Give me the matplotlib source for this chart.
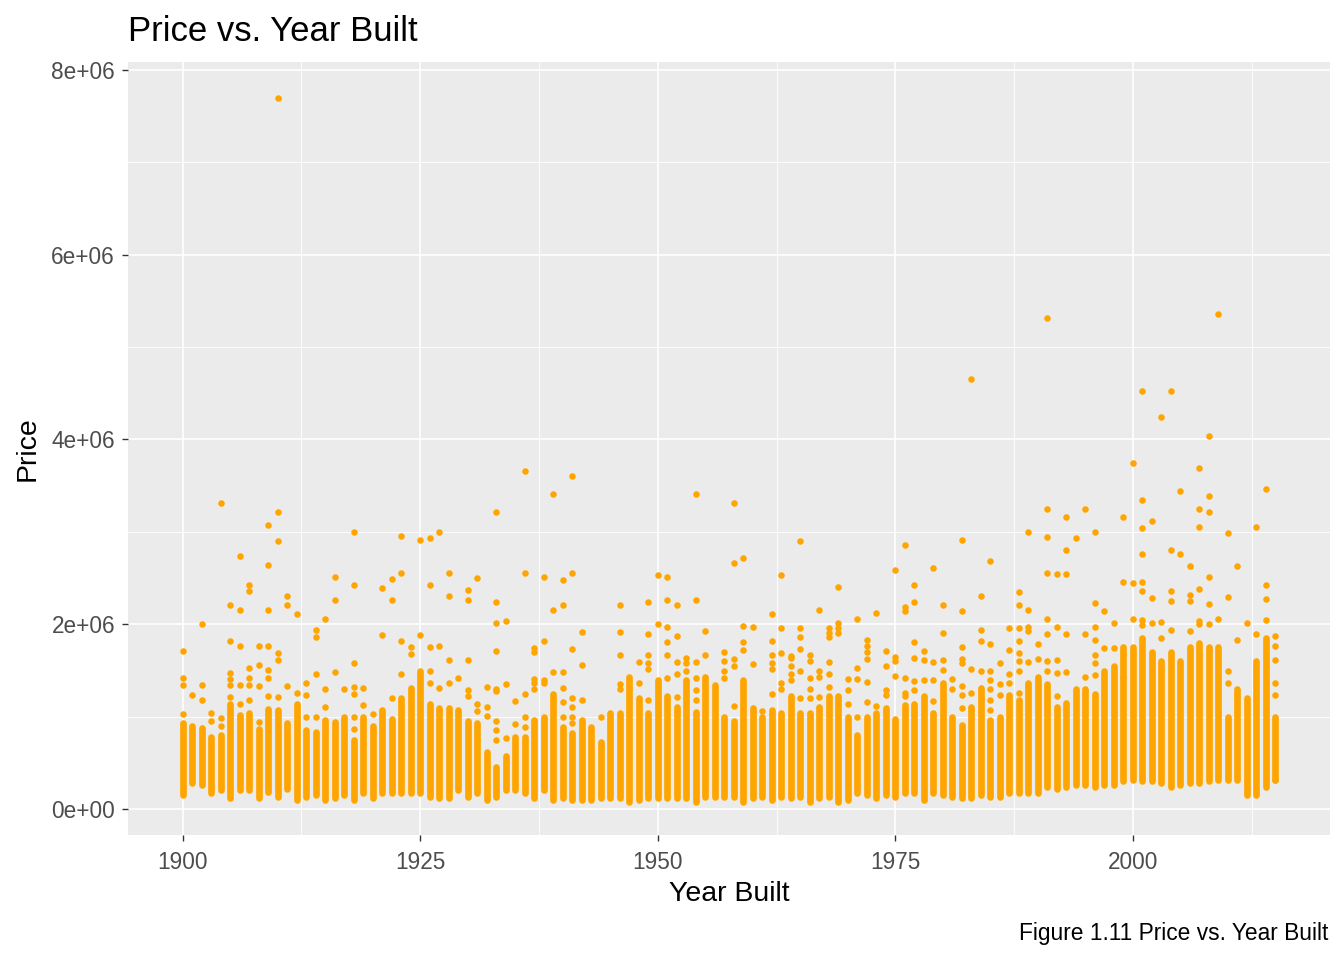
import matplotlib
matplotlib.use("Agg")
import matplotlib.pyplot as plt
import numpy as np
from matplotlib.ticker import FixedLocator, FuncFormatter

plt.rcParams['font.family'] = ['Liberation Sans', 'DejaVu Sans']

# ---------------- data (prices in millions of dollars) ----------------
years = list(range(1900, 2016))

# dense band of sales per year (low / high end of the solid column)
col_high = [
    0.93, 0.90, 0.88, 0.78, 0.80, 1.14, 1.02, 1.04, 0.87, 1.08,
    1.07, 0.93, 1.14, 0.86, 0.84, 0.96, 0.94, 1.00, 0.75, 1.00,
    0.90, 1.07, 0.98, 1.20, 1.31, 1.49, 1.14, 1.09, 1.09, 1.07,
    0.95, 0.93, 0.62, 0.46, 0.57, 0.78, 0.78, 0.96, 1.00, 1.25,
    0.89, 0.82, 0.96, 0.89, 0.73, 1.04, 1.04, 1.43, 1.20, 1.04,
    1.40, 1.22, 1.11, 1.40, 1.05, 1.43, 1.34, 1.00, 0.95, 1.40,
    1.09, 1.00, 1.07, 1.04, 1.22, 1.04, 1.04, 1.11, 1.22, 1.22,
    1.00, 0.80, 1.00, 1.04, 1.09, 0.98, 1.13, 1.14, 1.22, 1.04,
    1.36, 1.00, 0.91, 1.11, 1.31, 0.96, 1.00, 1.23, 1.18, 1.36,
    1.43, 1.35, 1.10, 1.15, 1.30, 1.30, 1.25, 1.50, 1.55, 1.75,
    1.75, 1.85, 1.70, 1.60, 1.70, 1.60, 1.75, 1.80, 1.75, 1.75,
    1.00, 1.30, 1.20, 1.60, 1.85, 1.00,
]
col_low = [
    0.15, 0.28, 0.26, 0.17, 0.21, 0.12, 0.21, 0.21, 0.12, 0.19,
    0.13, 0.22, 0.10, 0.13, 0.15, 0.10, 0.12, 0.15, 0.10, 0.17,
    0.12, 0.17, 0.17, 0.17, 0.17, 0.17, 0.13, 0.12, 0.12, 0.21,
    0.13, 0.17, 0.10, 0.13, 0.21, 0.21, 0.17, 0.12, 0.21, 0.10,
    0.12, 0.10, 0.10, 0.10, 0.12, 0.12, 0.12, 0.08, 0.10, 0.12,
    0.12, 0.12, 0.12, 0.12, 0.08, 0.13, 0.13, 0.13, 0.13, 0.08,
    0.12, 0.13, 0.10, 0.13, 0.12, 0.13, 0.08, 0.12, 0.13, 0.08,
    0.10, 0.17, 0.15, 0.12, 0.15, 0.13, 0.17, 0.17, 0.10, 0.17,
    0.15, 0.13, 0.12, 0.12, 0.15, 0.13, 0.13, 0.17, 0.17, 0.17,
    0.17, 0.24, 0.22, 0.24, 0.26, 0.26, 0.24, 0.26, 0.26, 0.30,
    0.31, 0.30, 0.30, 0.28, 0.24, 0.26, 0.28, 0.28, 0.30, 0.31,
    0.31, 0.31, 0.15, 0.15, 0.24, 0.31,
]

# individual sales above the dense band
out_years = [
    1900, 1900, 1900, 1900, 1901, 1902, 1902, 1902, 1903, 1903,
    1904, 1904, 1904, 1905, 1905, 1905, 1905, 1905, 1905, 1906,
    1906, 1906, 1906, 1906, 1907, 1907, 1907, 1907, 1907, 1907,
    1908, 1908, 1908, 1908, 1909, 1909, 1909, 1909, 1909, 1909,
    1909, 1910, 1910, 1910, 1910, 1910, 1910, 1911, 1911, 1911,
    1912, 1912, 1913, 1913, 1913, 1914, 1914, 1914, 1914, 1915,
    1915, 1915, 1916, 1916, 1916, 1917, 1918, 1918, 1918, 1918,
    1918, 1918, 1918, 1919, 1919, 1920, 1921, 1921, 1922, 1922,
    1922, 1923, 1923, 1923, 1923, 1924, 1924, 1925, 1925, 1926,
    1926, 1926, 1926, 1926, 1927, 1927, 1927, 1928, 1928, 1928,
    1928, 1929, 1930, 1930, 1930, 1930, 1930,
    1931, 1931, 1931, 1932, 1932, 1932, 1933, 1933, 1933, 1933,
    1933, 1933, 1933, 1933, 1933, 1934, 1934, 1934, 1935, 1935,
    1936, 1936, 1936, 1936, 1936, 1937, 1937, 1937, 1937, 1937,
    1938, 1938, 1938, 1938, 1939, 1939, 1939, 1940, 1940, 1940,
    1940, 1940, 1940, 1941, 1941, 1941, 1941, 1941, 1941, 1941,
    1942, 1942, 1942, 1944, 1946, 1946, 1946, 1946, 1946, 1948,
    1948, 1949, 1949, 1949, 1949, 1949, 1949, 1950, 1950, 1951,
    1951, 1951, 1951, 1951, 1951, 1952, 1952, 1952, 1952, 1952,
    1953, 1953, 1953, 1954, 1954, 1954, 1954, 1954, 1954, 1955,
    1955, 1957, 1957, 1957, 1957, 1958, 1958, 1958, 1958, 1958,
    1959, 1959, 1959, 1959, 1960, 1960,
    1961, 1962, 1962, 1962, 1962, 1962, 1962, 1963, 1963, 1963,
    1963, 1963, 1964, 1964, 1964, 1964, 1964, 1965, 1965, 1965,
    1965, 1965, 1965, 1966, 1966, 1966, 1966, 1966, 1967, 1967,
    1967, 1967, 1968, 1968, 1968, 1968, 1968, 1968, 1969, 1969,
    1969, 1969, 1970, 1970, 1970, 1971, 1971, 1971, 1971, 1972,
    1972, 1972, 1972, 1972, 1972, 1973, 1973, 1974, 1974, 1974,
    1974, 1975, 1975, 1975, 1975, 1976, 1976, 1976, 1976, 1976,
    1976, 1977, 1977, 1977, 1977, 1977, 1977, 1978, 1978, 1978,
    1979, 1979, 1979, 1979, 1980, 1980, 1980, 1980, 1981, 1981,
    1982, 1982, 1982, 1982, 1982, 1982, 1982, 1982, 1983, 1983,
    1983, 1984, 1984, 1984, 1984, 1985, 1985, 1985, 1985, 1985,
    1985, 1985, 1986, 1986, 1986, 1987, 1987, 1987, 1987, 1988,
    1988, 1988, 1988, 1988, 1988, 1988, 1988, 1989, 1989, 1989,
    1989, 1989, 1990, 1990,
    1991, 1991, 1991, 1991, 1991, 1991, 1991, 1991, 1992, 1992,
    1992, 1992, 1992, 1993, 1993, 1993, 1993, 1993, 1994, 1995,
    1995, 1995, 1996, 1996, 1996, 1996, 1996, 1996, 1996, 1997,
    1997, 1998, 1998, 1999, 1999, 1999, 2000, 2000, 2000, 2001,
    2001, 2001, 2001, 2001, 2001, 2001, 2001, 2002, 2002, 2002,
    2003, 2003, 2003, 2004, 2004, 2004, 2004, 2004, 2005, 2005,
    2006, 2006, 2006, 2006, 2007, 2007, 2007, 2007, 2007, 2007,
    2008, 2008, 2008, 2008, 2008, 2008, 2009, 2009, 2010, 2010,
    2010, 2010, 2011, 2011, 2012, 2013, 2013, 2014, 2014, 2014,
    2014, 2015, 2015, 2015, 2015, 2015, 2015,
]
out_prices = [
    1.03, 1.34, 1.42, 1.71, 1.24, 1.18, 1.34, 2.00, 0.95, 1.04,
    0.90, 0.99, 3.31, 1.21, 1.34, 1.41, 1.47, 1.82, 2.21, 1.14,
    1.34, 1.76, 2.15, 2.74, 1.18, 1.34, 1.42, 1.53, 2.36, 2.42,
    0.94, 1.33, 1.56, 1.76, 1.22, 1.42, 1.51, 1.76, 2.16, 2.64,
    3.07, 1.21, 1.61, 1.69, 2.90, 3.21, 7.70, 1.33, 2.21, 2.31,
    1.26, 2.11, 1.00, 1.24, 1.37, 1.00, 1.46, 1.86, 1.94, 1.10,
    1.30, 2.06, 1.48, 2.26, 2.51, 1.30, 0.87, 1.00, 1.25, 1.32,
    1.58, 2.42, 3.00, 1.13, 1.31, 1.03, 1.88, 2.39, 1.20, 2.26,
    2.49, 1.46, 1.82, 2.56, 2.96, 1.68, 1.75, 1.88, 2.91, 1.36,
    1.50, 1.75, 2.42, 2.93, 1.31, 1.76, 3.00, 1.37, 1.61, 2.31,
    2.55, 1.42, 1.22, 1.29, 1.61, 2.26, 2.37,
    1.06, 1.14, 2.50, 1.01, 1.10, 1.32, 0.75, 0.86, 0.95, 1.28,
    1.30, 1.71, 2.01, 2.24, 3.21, 0.77, 1.35, 2.04, 0.92, 1.17,
    0.89, 1.00, 1.25, 2.55, 3.66, 1.30, 1.37, 1.41, 1.70, 1.74,
    1.37, 1.40, 1.82, 2.51, 1.48, 2.16, 3.41, 1.00, 1.16, 1.31,
    1.48, 2.21, 2.48, 0.93, 1.00, 1.10, 1.20, 1.73, 2.55, 3.61,
    1.18, 1.56, 1.92, 1.00, 1.30, 1.35, 1.67, 1.92, 2.21, 1.36,
    1.59, 1.18, 1.52, 1.58, 1.67, 1.89, 2.24, 2.00, 2.53, 1.42,
    1.67, 1.81, 1.97, 2.26, 2.51, 1.21, 1.46, 1.59, 1.87, 2.21,
    1.50, 1.58, 1.64, 1.18, 1.29, 1.42, 1.59, 2.26, 3.41, 1.67,
    1.93, 1.42, 1.50, 1.60, 1.70, 1.12, 1.55, 1.62, 2.66, 3.31,
    1.72, 1.81, 1.98, 2.72, 1.57, 1.97,
    1.06, 1.25, 1.52, 1.58, 1.67, 1.82, 2.11, 1.30, 1.36, 1.69,
    1.96, 2.53, 1.40, 1.46, 1.55, 1.63, 1.66, 1.20, 1.49, 1.73,
    1.86, 1.96, 2.90, 1.20, 1.30, 1.42, 1.60, 1.67, 1.21, 1.43,
    1.50, 2.16, 1.32, 1.46, 1.59, 1.86, 1.91, 1.96, 1.91, 1.96,
    2.01, 2.40, 1.14, 1.29, 1.41, 1.00, 1.41, 1.53, 2.06, 1.16,
    1.38, 1.62, 1.70, 1.76, 1.83, 1.12, 2.12, 1.24, 1.29, 1.55,
    1.71, 1.44, 1.60, 1.65, 2.59, 1.22, 1.26, 1.42, 2.14, 2.19,
    2.86, 1.29, 1.39, 1.64, 1.81, 2.24, 2.42, 1.40, 1.61, 1.71,
    1.17, 1.40, 1.59, 2.61, 1.51, 1.61, 1.91, 2.21, 1.30, 1.41,
    1.09, 1.23, 1.33, 1.58, 1.62, 1.75, 2.14, 2.91, 1.26, 1.52,
    4.66, 1.49, 1.82, 1.94, 2.31, 1.07, 1.18, 1.30, 1.40, 1.50,
    1.79, 2.69, 1.24, 1.35, 1.58, 1.37, 1.46, 1.72, 1.96, 1.26,
    1.50, 1.60, 1.69, 1.82, 1.96, 2.21, 2.35, 1.59, 1.93, 1.97,
    2.16, 3.00, 1.62, 1.79,
    1.50, 1.60, 1.90, 2.06, 2.56, 2.95, 3.25, 5.32, 1.22, 1.47,
    1.61, 1.97, 2.54, 1.48, 1.89, 2.54, 2.80, 3.16, 2.93, 1.43,
    1.90, 3.25, 1.45, 1.58, 1.67, 1.83, 1.97, 2.23, 3.00, 1.74,
    2.14, 1.74, 2.01, 1.43, 2.46, 3.16, 2.06, 2.45, 3.75, 1.99,
    2.05, 2.36, 2.46, 2.76, 3.04, 3.34, 4.52, 2.01, 2.29, 3.12,
    1.85, 2.03, 4.24, 1.94, 2.25, 2.36, 2.80, 4.53, 2.76, 3.44,
    1.93, 2.25, 2.32, 2.63, 2.00, 2.04, 2.38, 3.05, 3.25, 3.69,
    2.00, 2.22, 2.51, 3.22, 3.39, 4.04, 2.06, 5.36, 1.36, 1.49,
    2.30, 2.99, 1.83, 2.63, 2.01, 1.90, 3.05, 2.05, 2.27, 2.42,
    3.46, 1.23, 1.36, 1.61, 1.76, 1.87, 0.31,
]

x_ticks = [1900, 1925, 1950, 1975, 2000]
y_ticks = [0, 2e6, 4e6, 6e6, 8e6]

# ---------------- figure ----------------
W, H = 1344, 960
fig = plt.figure(figsize=(W / 100, H / 100), dpi=100)
L, R, T, B = 128, 1330, 62, 835
ax = fig.add_axes([L / W, 1 - B / H, (R - L) / W, (B - T) / H])
ax.set_facecolor('#EBEBEB')
for s in ax.spines.values():
    s.set_visible(False)

ax.set_xlim(1894.25, 2020.75)
ax.set_ylim(-0.28e6, 8.085e6)
ax.xaxis.set_major_locator(FixedLocator(x_ticks))
ax.xaxis.set_minor_locator(FixedLocator([1912.5, 1937.5, 1962.5, 1987.5, 2012.5]))
ax.yaxis.set_major_locator(FixedLocator(y_ticks))
ax.yaxis.set_minor_locator(FixedLocator([1e6, 3e6, 5e6, 7e6]))
ax.yaxis.set_major_formatter(FuncFormatter(lambda v, p: f"{v:.0e}"))
ax.xaxis.set_major_formatter(FuncFormatter(lambda v, p: f"{int(v)}"))
ax.grid(which='major', color='white', linewidth=1.2)
ax.grid(which='minor', color='white', linewidth=0.6)
ax.set_axisbelow(True)
ax.tick_params(which='minor', length=0)
ax.tick_params(which='major', length=4.3, width=1.0, color='#333333',
               labelcolor='#4D4D4D', labelsize=16.3)
ax.tick_params(axis='x', which='major', pad=7)
ax.tick_params(axis='y', which='major', pad=5)

orange = '#FFA500'
ax.vlines(years, np.array(col_low) * 1e6, np.array(col_high) * 1e6,
          colors=orange, linewidth=4.8, capstyle='round', zorder=3)
ax.scatter(out_years, np.array(out_prices) * 1e6, s=22, c=orange,
           linewidths=0, zorder=3)

fig.text(L / W, 1 - 41 / H, "Price vs. Year Built", fontsize=25,
         ha='left', va='baseline', color='black')
fig.text((L + R) / 2 / W, 1 - 901 / H, "Year Built", fontsize=20.5,
         ha='center', va='baseline', color='black')
fig.text(28 / W, 1 - (T + B) / 2 / H, "Price", fontsize=20.5, rotation=90,
         ha='center', va='center', color='black')
fig.text(1328 / W, 1 - 940 / H, "Figure 1.11 Price vs. Year Built", fontsize=16.4,
         ha='right', va='baseline', color='black')

fig.savefig("out.png", dpi=100)
